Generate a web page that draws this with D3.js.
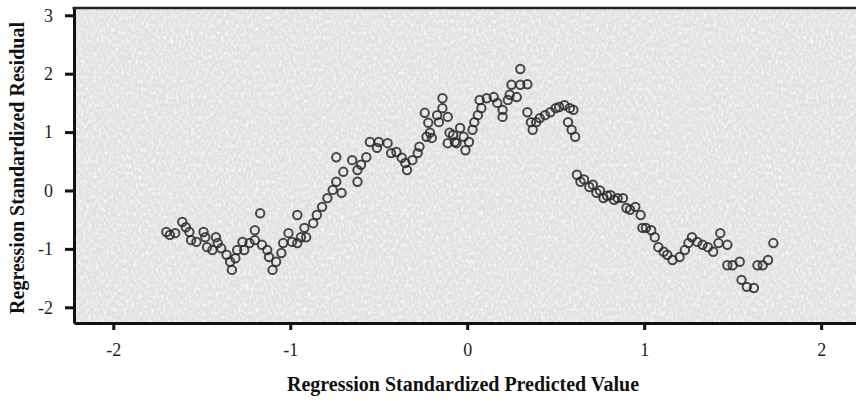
<!DOCTYPE html>
<html>
<head>
<meta charset="utf-8">
<script src="https://cdn.jsdelivr.net/npm/d3@7"></script>
<style>
  body { margin: 0; background: #fff; }
  .tick text { font-family: "Liberation Serif", "Times New Roman", serif; font-size: 18px; fill: #222; }
  .axisTitle { font-family: "Liberation Serif", "Times New Roman", serif; font-size: 20px; font-weight: bold; fill: #111; }
</style>
</head>
<body>
<div class="chart"></div>
<script>
// values
var predicted = [-1.70,-1.68,-1.65,-1.61,-1.59,-1.57,-1.56,-1.53,-1.49,-1.48,-1.47,-1.44,-1.42,-1.41,-1.39,-1.36,-1.34,-1.33,-1.31,-1.30,
  -1.27,-1.26,-1.23,-1.20,-1.20,-1.17,-1.16,-1.13,-1.12,-1.10,-1.08,-1.05,-1.04,-1.01,-0.99,-0.96,-0.96,-0.94,-0.92,-0.91,
  -0.87,-0.85,-0.82,-0.79,-0.76,-0.74,-0.71,-0.70,-0.74,-0.65,-0.62,-0.62,-0.60,-0.57,-0.55,-0.51,-0.50,-0.45,-0.43,-0.40,
  -0.37,-0.35,-0.34,-0.31,-0.28,-0.27,-0.24,-0.22,-0.21,-0.20,-0.17,-0.16,-0.11,-0.11,-0.08,-0.06,-0.14,-0.23,
  -0.14,-0.10,-0.07,-0.04,-0.02,-0.01,0.01,0.03,0.04,0.06,0.08,0.07,0.11,0.15,0.17,0.20,0.20,0.23,0.24,0.28,0.25,0.30,0.34,0.30,
  0.34,0.36,0.37,0.39,0.41,0.44,0.47,0.50,0.52,0.55,0.58,0.60,0.57,0.59,0.61,
  0.62,0.64,0.66,0.69,0.71,0.73,0.75,0.77,0.79,0.81,0.83,0.85,0.88,0.90,0.92,0.95,0.98,0.99,1.01,1.04,1.06,1.08,1.11,1.13,1.16,
  1.20,1.23,1.25,1.27,1.30,1.33,1.36,1.39,1.42,1.43,1.47,1.47,1.50,1.54,1.55,1.58,1.62,1.64,1.67,1.70,1.73];
var residual = [-0.71,-0.76,-0.73,-0.54,-0.63,-0.71,-0.85,-0.88,-0.71,-0.80,-0.97,-1.02,-0.80,-0.90,-0.99,-1.10,-1.22,-1.36,-1.16,-1.02,
  -0.88,-1.02,-0.90,-0.68,-0.85,-0.39,-0.93,-1.02,-1.14,-1.36,-1.22,-1.07,-0.90,-0.73,-0.88,-0.42,-0.90,-0.80,-0.64,-0.80,
  -0.56,-0.42,-0.28,-0.13,0.01,0.15,-0.04,0.32,0.57,0.52,0.35,0.15,0.44,0.57,0.83,0.73,0.83,0.81,0.64,0.66,
  0.56,0.47,0.35,0.52,0.64,0.75,1.33,1.16,0.99,0.90,1.29,1.17,1.26,0.81,0.95,0.81,1.58,0.92,
  1.41,0.99,0.83,1.07,0.92,0.69,0.83,1.04,1.17,1.29,1.41,1.55,1.58,1.60,1.50,1.38,1.26,1.55,1.64,1.60,1.81,1.81,1.82,2.08,
  1.34,1.17,1.04,1.17,1.24,1.29,1.34,1.41,1.43,1.46,1.41,1.38,1.17,1.04,0.92,
  0.27,0.15,0.19,0.06,0.10,-0.04,0.00,-0.13,-0.09,-0.08,-0.16,-0.13,-0.13,-0.30,-0.33,-0.28,-0.42,-0.64,-0.64,-0.68,-0.80,-0.97,-1.05,-1.10,-1.19,
  -1.14,-1.02,-0.90,-0.80,-0.88,-0.93,-0.97,-1.05,-0.90,-0.73,-0.93,-1.28,-1.28,-1.22,-1.53,-1.65,-1.67,-1.28,-1.28,-1.19,-0.90];
var xTicks = [-2, -1, 0, 1, 2];
var yTicks = [-2, -1, 0, 1, 2, 3];

var data = predicted.map(function(p, i) { return {x: p, y: residual[i]}; });

var svgWidth = 856;
var svgHeight = 401;
var margin = { top: 8, right: 0, bottom: 78, left: 74 };
var width = svgWidth - margin.left - margin.right;
var height = svgHeight - margin.top - margin.bottom;

var svg = d3.select(".chart")
  .append("svg")
  .attr("width", svgWidth)
  .attr("height", svgHeight);

// grainy scanned background
var defs = svg.append("defs");
var grain = defs.append("filter")
  .attr("id", "grain")
  .attr("x", 0).attr("y", 0).attr("width", "100%").attr("height", "100%");
grain.append("feTurbulence")
  .attr("type", "fractalNoise")
  .attr("baseFrequency", "0.4 0.25")
  .attr("numOctaves", 2)
  .attr("seed", 7);
grain.append("feColorMatrix")
  .attr("type", "matrix")
  .attr("values", "0 0 0 0 1  0 0 0 0 1  0 0 0 0 1  2.4 0 0 0 -1.1");

var chartGroup = svg.append("g")
  .attr("transform", `translate(${margin.left}, ${margin.top})`);

chartGroup.append("rect")
  .attr("width", width)
  .attr("height", height)
  .attr("fill", "#e2e2e2");
chartGroup.append("rect")
  .attr("width", width)
  .attr("height", height)
  .attr("filter", "url(#grain)")
  .attr("opacity", 0.9);

var xLinearScale = d3.scaleLinear().domain([-2.222, 2.197]).range([0, width]);
var yLinearScale = d3.scaleLinear().domain([-2.269, 3.125]).range([height, 0]);

var bottomAxis = d3.axisBottom(xLinearScale).tickValues(xTicks).tickFormat(d => String(d))
  .tickSize(7).tickPadding(13).tickSizeOuter(0);
var leftAxis = d3.axisLeft(yLinearScale).tickValues(yTicks).tickFormat(d => String(d))
  .tickSize(9).tickPadding(12).tickSizeOuter(0);

var xAxisG = chartGroup.append("g")
  .attr("transform", `translate(0,${height})`)
  .call(bottomAxis);
var yAxisG = chartGroup.append("g").call(leftAxis);

[xAxisG, yAxisG].forEach(function(g) {
  g.select(".domain").attr("stroke", "#111").attr("stroke-width", 3);
  g.selectAll(".tick line").attr("stroke", "#111").attr("stroke-width", 3);
});

// top frame line
chartGroup.append("line")
  .attr("x1", -1.5).attr("x2", width)
  .attr("y1", 0).attr("y2", 0)
  .attr("stroke", "#222")
  .attr("stroke-width", 2.5);

// points
chartGroup.selectAll("circle")
  .data(data)
  .enter()
  .append("circle")
  .attr("cx", d => xLinearScale(d.x))
  .attr("cy", d => yLinearScale(d.y))
  .attr("r", 4.2)
  .attr("fill", "none")
  .attr("stroke", "#2a2a2a")
  .attr("stroke-width", 2)
  .attr("opacity", 0.85);

// axis titles
svg.append("text")
  .attr("class", "axisTitle")
  .attr("text-anchor", "middle")
  .attr("x", 463)
  .attr("y", 391)
  .text("Regression Standardized Predicted Value");

svg.append("text")
  .attr("class", "axisTitle")
  .attr("text-anchor", "middle")
  .attr("transform", "translate(24, 168) rotate(-90)")
  .text("Regression Standardized Residual");
</script>
</body>
</html>
